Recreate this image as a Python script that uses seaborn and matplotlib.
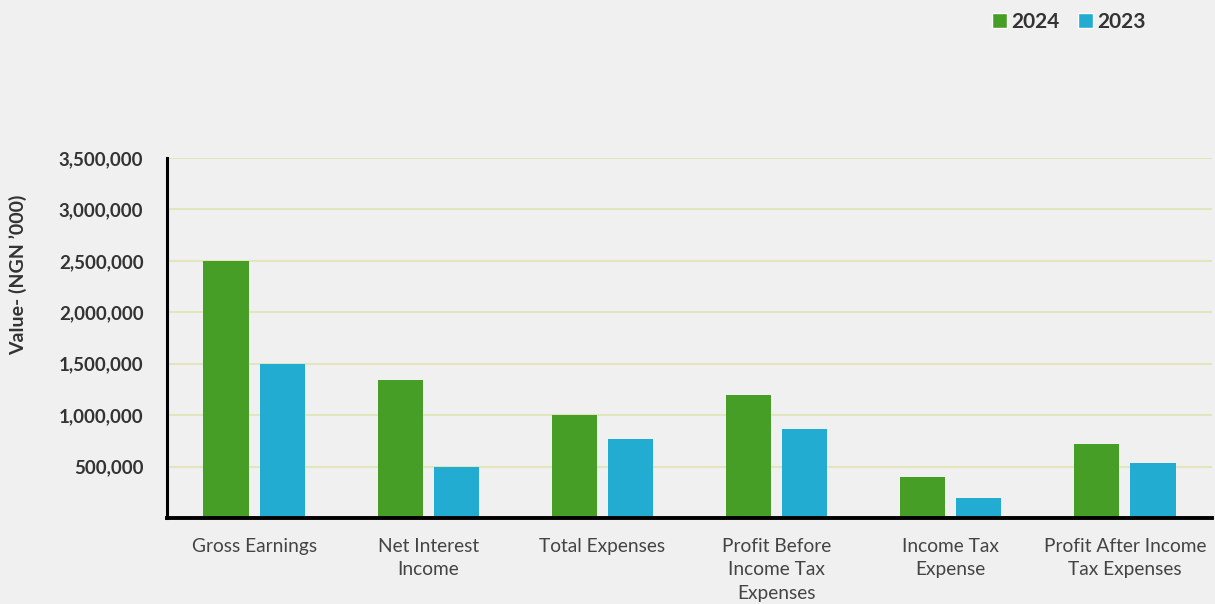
import pandas as pd
import matplotlib.pyplot as plt
import seaborn as sns
from matplotlib.patches import Patch
from matplotlib.ticker import FuncFormatter

# values in NGN '000
categories = ['Gross Earnings', 'Net Interest\nIncome', 'Total Expenses',
              'Profit Before\nIncome Tax\nExpenses', 'Income Tax\nExpense',
              'Profit After Income\nTax Expenses']
values_2024 = [2500000, 1340000, 1000000, 1200000, 400000, 720000]
values_2023 = [1500000, 500000, 770000, 865000, 195000, 535000]
years = ['2024', '2023']
colors = ['#479e27', '#22acd1']

df = pd.DataFrame({
    'category': categories * 2,
    'year': [years[0]] * len(categories) + [years[1]] * len(categories),
    'value': values_2024 + values_2023,
})

sns.set_theme(style='white')
plt.rcParams['font.family'] = ['Lato', 'DejaVu Sans']
bg = '#f0f0f0'

fig = plt.figure(figsize=(12.15, 6.04), dpi=100, facecolor=bg)
ax = fig.add_axes([167 / 1215, 1 - 518 / 604, 1045 / 1215, 360 / 604])
ax.set_facecolor(bg)

sns.barplot(data=df, x='category', y='value', hue='year', order=categories,
            hue_order=years, palette=colors, width=0.644, gap=0.196,
            saturation=1, linewidth=0, legend=False, ax=ax)

ax.set_xlim(-0.5, 5.5)
ax.set_ylim(0, 3500000)
ax.set_yticks(range(500000, 3500001, 500000))
ax.yaxis.set_major_formatter(FuncFormatter(lambda v, p: f'{int(v):,}'))
ax.yaxis.grid(True, color='#e2e6bd', linewidth=1.5)
ax.set_axisbelow(True)

for lab in ax.get_yticklabels():
    lab.set_fontweight('bold')
ax.tick_params(axis='y', length=0, pad=17, labelsize=13.5, labelcolor='#333333')
ax.tick_params(axis='x', length=0, pad=14.5, labelsize=13.8, labelcolor='#444444')
for lab in ax.get_xticklabels():
    lab.set_multialignment('center')
    lab.set_linespacing(1.45)

ax.set_xlabel('')
ax.set_ylabel('')
for s in ['top', 'right']:
    ax.spines[s].set_visible(False)
ax.spines['left'].set_color('black')
ax.spines['left'].set_linewidth(2.2)
ax.spines['bottom'].set_color('black')
ax.spines['bottom'].set_linewidth(2.8)

fig.text(18 / 1215, 1 - 275 / 604, 'Value- (NGN \u2019000)', rotation=90,
         ha='center', va='center', fontsize=14, fontweight='bold', color='#333333')

handles = [Patch(facecolor=c, label=y) for y, c in zip(years, colors)]
leg = fig.legend(handles=handles, loc='upper right', bbox_to_anchor=(1162 / 1215, 1 + 5 / 604),
                 ncol=2, frameon=False, handlelength=0.7, handleheight=0.7,
                 handletextpad=0.2, columnspacing=0.9, borderpad=0.3,
                 prop={'weight': 'bold', 'size': 15})
for t in leg.get_texts():
    t.set_color('#333333')

fig.savefig('out.png', dpi=100, facecolor=bg)
